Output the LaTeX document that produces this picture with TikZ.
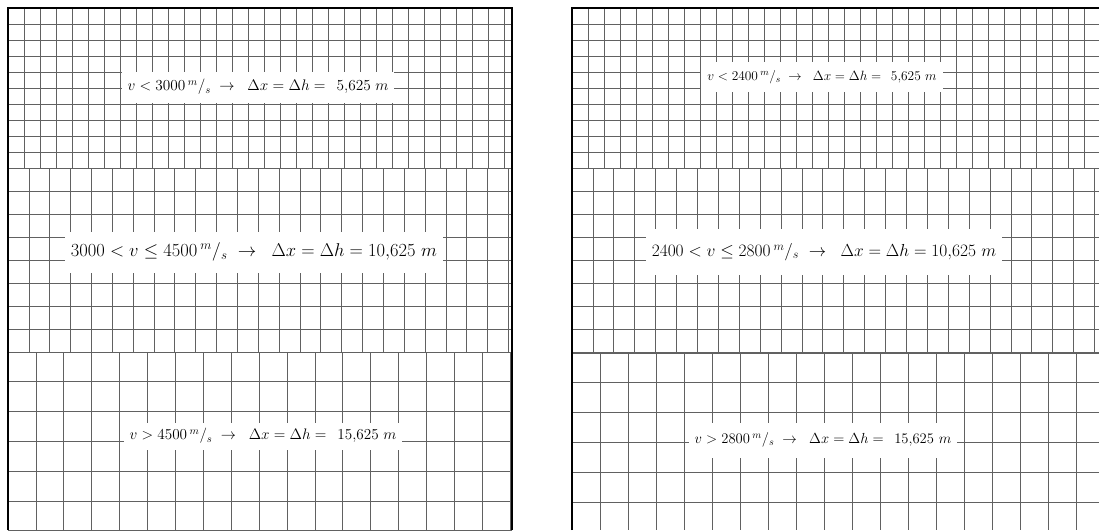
\RequirePackage{fix-cm}
\documentclass[tikz,border=0pt]{standalone}
\usepackage{amsmath}
\usetikzlibrary{positioning}

\newcommand{\ms}{{}^{m}/_{s}}
% one band of grid lines: x0, x1, y0, y1, dx, dy
\newcommand{\gridband}[6]{%
\begin{scope}
\clip (#1,#3) rectangle (#2,#4);
\pgfmathsetmacro{\nx}{int(ceil((#2-#1)/#5))}
\pgfmathsetmacro{\ny}{int(ceil((#4-#3)/#6))}
\foreach \i in {0,...,\nx} \draw[gridline] ({#1+#5*\i},#3) -- ({#1+#5*\i},#4);
\foreach \j in {0,...,\ny} \draw[gridline] (#1,{#3+#6*\j}) -- (#2,{#3+#6*\j});
\end{scope}}

\begin{document}
\begin{tikzpicture}[x=1pt,y=-1pt,
gridline/.style={draw=black!62,line width=0.7pt},
border/.style={draw=black,line width=1.5pt},
label/.style={fill=white,inner xsep=6pt,inner ysep=0pt}]
\useasboundingbox (0,0) rectangle (1099,530);
\fill[white] (0,0) rectangle (1099,530);

% left panel
\gridband{8}{512}{8}{168}{16}{16}
\gridband{8}{512}{168}{352}{20.85}{23}
\gridband{8}{512}{352}{530}{27.9}{29.8}
\draw[border] (8,530) -- (8,8) -- (512,8) -- (512,530);

% right panel
\gridband{572}{1099}{8}{168}{16}{16}
\gridband{572}{1099}{168}{353}{20.9}{23.1}
\gridband{572}{1099}{353}{530}{28}{29.8}
\draw[border] (572,530) -- (572,8) -- (1099,8);

% labels
\node[label,minimum height=31pt,font=\fontsize{15.3}{18}\selectfont] (L1) at (258,87)
  {$v < 3000\,\ms \;\rightarrow\;\; \Delta x = \Delta h =\;\, 5{,}625\ m$};
\node[label,minimum height=41pt,font=\fontsize{18.5}{22}\selectfont] (L2) at (254,252)
  {$3000 < v \leq 4500\,\ms \;\rightarrow\;\; \Delta x = \Delta h = 10{,}625\ m$};
\node[label,minimum height=27pt,font=\fontsize{15.2}{18}\selectfont] (L3) at (263,436)
  {$v > 4500\,\ms \;\rightarrow\;\; \Delta x = \Delta h =\;\, 15{,}625\ m$};
\node[label,minimum height=30pt,font=\fontsize{13.4}{16}\selectfont] (R1) at (822,77)
  {$v < 2400\,\ms \;\rightarrow\;\; \Delta x = \Delta h =\;\, 5{,}625\ m$};
\node[label,minimum height=46pt,font=\fontsize{17.4}{21}\selectfont] (R2) at (824,252)
  {$2400 < v \leq 2800\,\ms \;\rightarrow\;\; \Delta x = \Delta h = 10{,}625\ m$};
\node[label,minimum height=35pt,font=\fontsize{14.6}{18}\selectfont] (R3) at (823,440)
  {$v > 2800\,\ms \;\rightarrow\;\; \Delta x = \Delta h =\;\, 15{,}625\ m$};
\end{tikzpicture}
\end{document}
